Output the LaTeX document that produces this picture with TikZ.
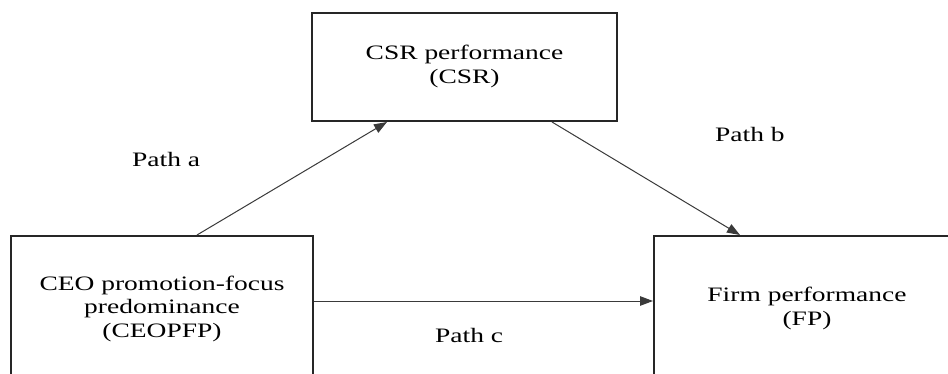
\documentclass[tikz,border=0pt]{standalone}
\usepackage{fontspec}
\setmainfont{Liberation Serif}
\usetikzlibrary{arrows.meta}
\usepackage{graphicx}
\usepackage{array}
% wide serif lettering, stretched horizontally
\newcommand{\widetext}[1]{\scalebox{1.34}[1]{\fontsize{20.5}{23.5}\selectfont\renewcommand{\arraystretch}{1}\begin{tabular}{@{}c@{}}#1\end{tabular}}}
\definecolor{edgegray}{HTML}{262626}
\definecolor{linegray}{HTML}{3A3A3A}
\tikzset{
  varbox/.style={draw=edgegray, line width=2pt, rectangle, inner sep=0pt, text=black},
  conn/.style={draw=linegray, line width=1pt, -{Triangle[length=13pt,width=9.5pt]}},
  pathlabel/.style={anchor=base west, inner sep=0pt, text=black}
}
\begin{document}
\begin{tikzpicture}[x=1pt, y=-1pt]
  \useasboundingbox (0,0) rectangle (948,374);
  \clip (0,0) rectangle (948,374);
  \fill[white] (0,0) rectangle (948,374);

  % the three variables
  \node[varbox, minimum width=305pt, minimum height=108pt] (C) at (464.5,67)
    {\widetext{CSR performance\\(CSR)}};
  \node[varbox, minimum width=302pt, minimum height=146pt] (L) at (162,309)
    {\widetext{CEO promotion-focus\\predominance\\(CEOPFP)}};
  \node[varbox, minimum width=306pt, minimum height=146pt] (R) at (807,309)
    {\widetext{Firm performance\\(FP)}};

  % mediation paths
  \draw[conn] ([xshift=35pt]L.north) -- ([xshift=-77.5pt]C.south);
  \draw[conn] ([xshift=87.5pt]C.south) -- ([xshift=-67pt]R.north);
  \draw[conn] ([yshift=8pt]L.east) -- ([yshift=8pt]L.east -| R.west);

  % path labels
  \node[pathlabel] (pa) at (132,167) {\widetext{Path a}};
  \node[pathlabel] (pb) at (715,142) {\widetext{Path b}};
  \node[pathlabel] (pc) at (435,343) {\widetext{Path c}};
\end{tikzpicture}
\end{document}
